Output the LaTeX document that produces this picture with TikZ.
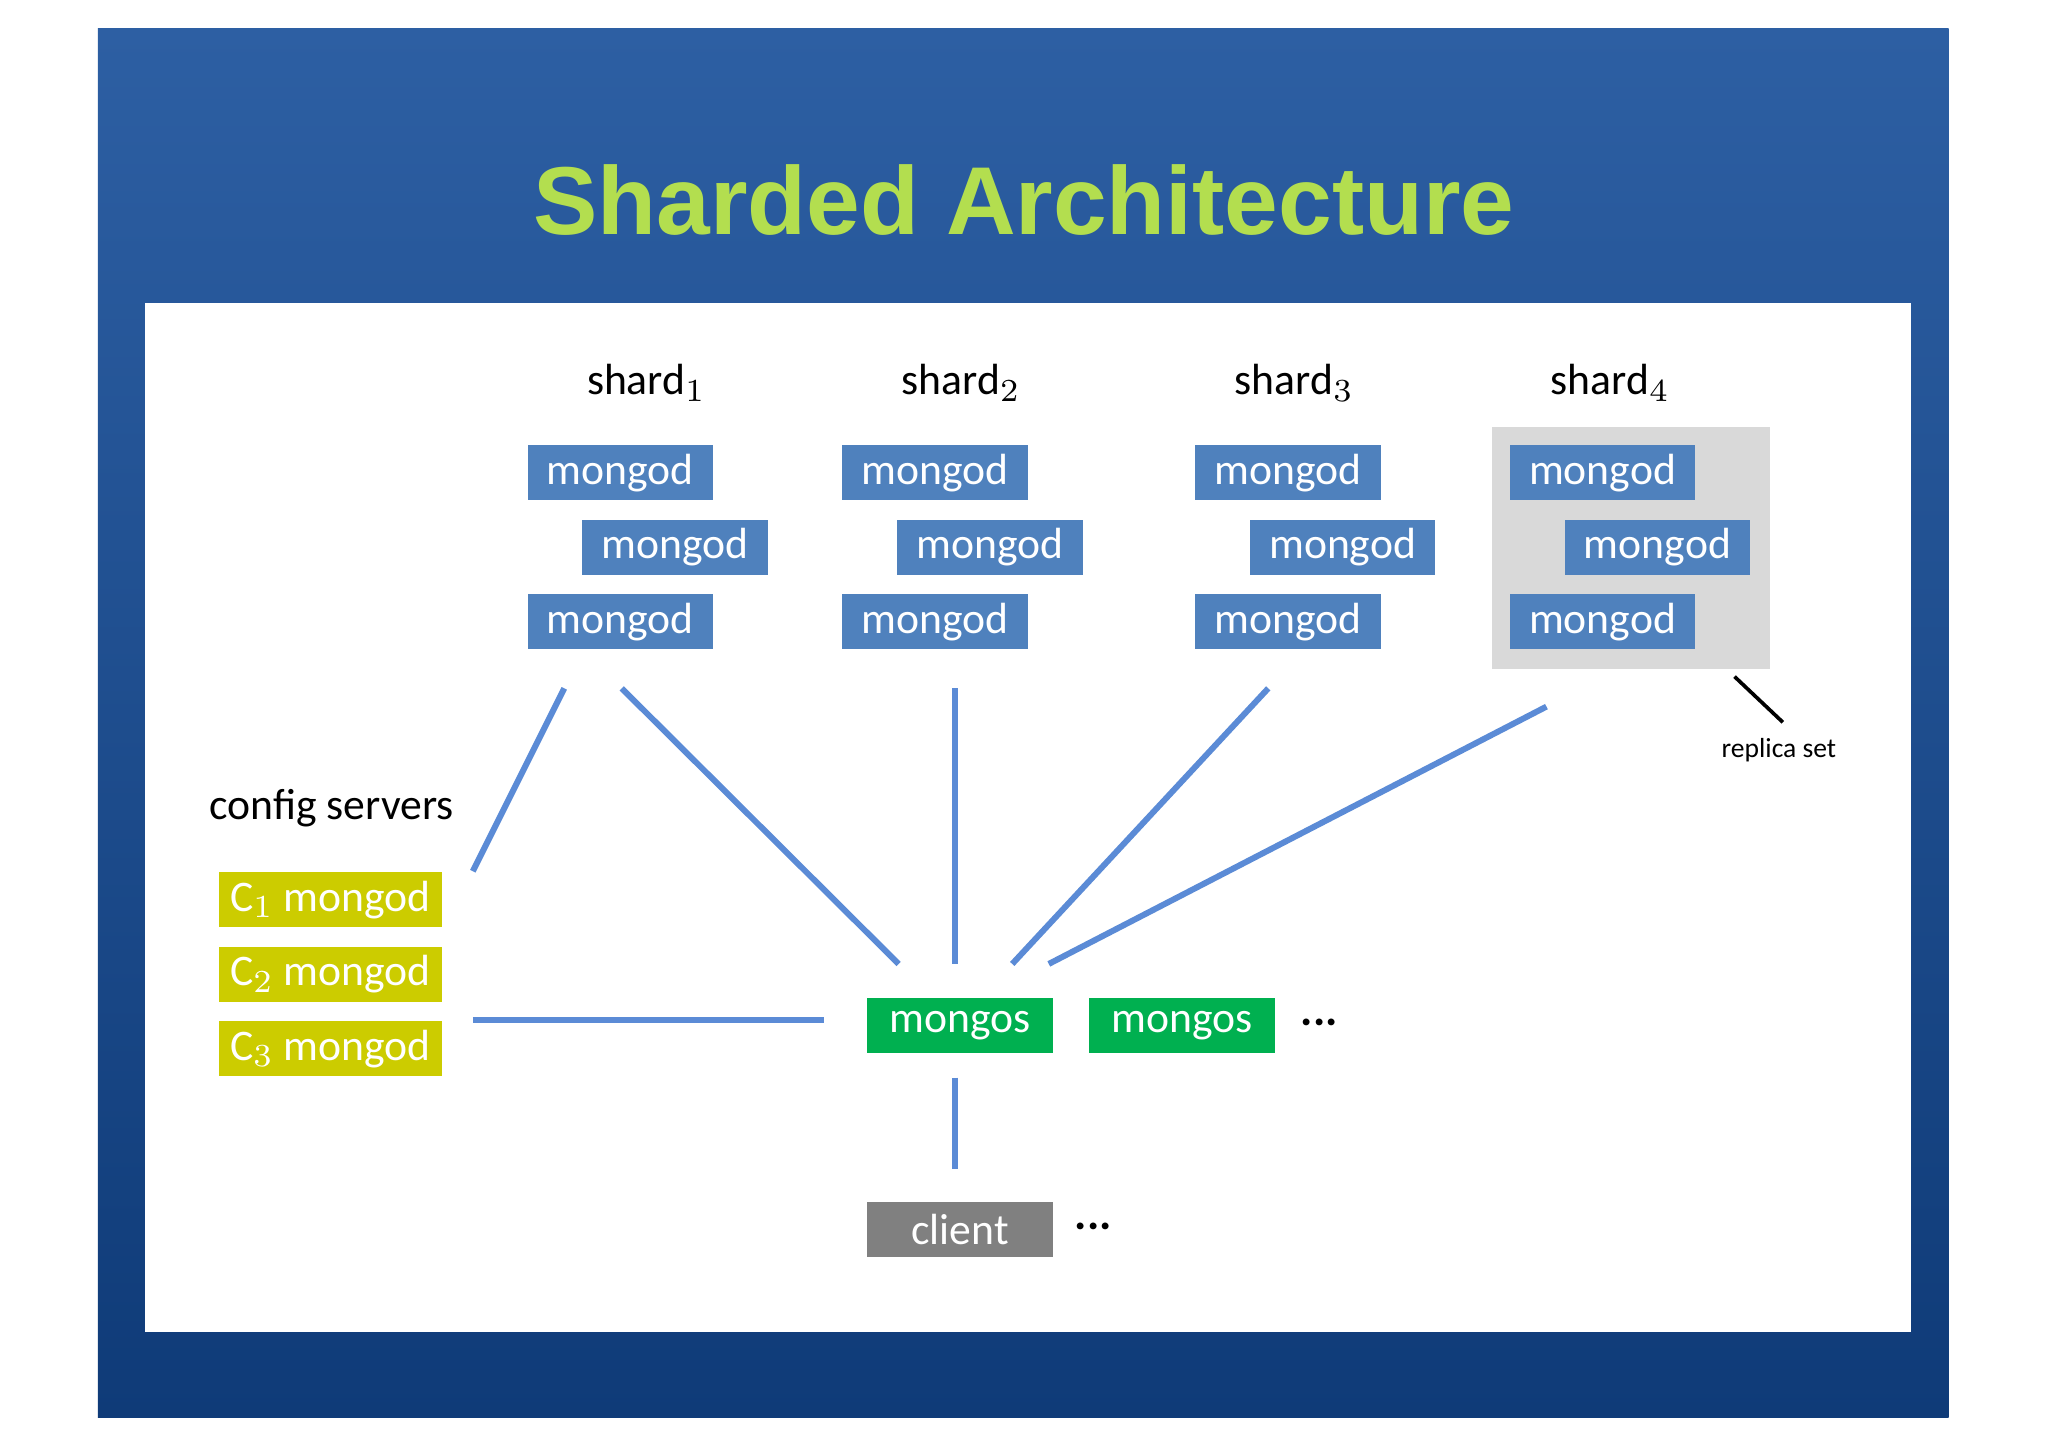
\documentclass[tikz,border=0pt]{standalone}
\usepackage{fontspec}
\setmainfont{Carlito}
\newfontfamily\titlefont{Liberation Sans}
\usetikzlibrary{positioning}
\definecolor{slideTop}{HTML}{2D5FA3}
\definecolor{slideBot}{HTML}{0F3B78}
\definecolor{shardBlue}{HTML}{4F81BD}
\definecolor{cfgYellow}{HTML}{CCCC00}
\definecolor{mongosGreen}{HTML}{00B050}
\definecolor{clientGray}{HTML}{808080}
\definecolor{linkBlue}{HTML}{5B8BD6}
\definecolor{titleGreen}{HTML}{B3DE4F}
\begin{document}
\begin{tikzpicture}[x=0.01cm,y=-0.01cm,
  box/.style={minimum width=1.42cm, minimum height=0.42cm, inner sep=0pt, text=white, font=\fontsize{9.5}{10}\selectfont},
  mongod/.style={box, fill=shardBlue},
  cfg/.style={box, fill=cfgYellow, minimum width=1.7cm},
  link/.style={draw=linkBlue, line width=1.3pt},
  lbl/.style={font=\fontsize{9.5}{10}\selectfont}]
  \useasboundingbox (0,0) rectangle (1568,1108);
  % slide background
  \shade[top color=slideTop, bottom color=slideBot] (75,22) rectangle (1492,1085);
  \fill[white] (111,232) rectangle (1463,1020);
  \node[font=\titlefont\bfseries\fontsize{21}{24}\selectfont, text=titleGreen] (title) at (784,153) {Sharded Architecture};
  % replica set area
  \fill[black!15] (1142,327) rectangle (1355,512);
  % shards
  \foreach \i/\x/\lx in {1/475/495, 2/716/736, 3/986/991, 4/1227/1233} {
    \node[lbl] (s\i) at (\lx,293) {shard$_{\i}$};
    \node[mongod] (m\i a) at (\x,362) {mongod};
    \node[mongod] (m\i b) at (\x+42,419) {mongod};
    \node[mongod] (m\i c) at (\x,476) {mongod};
  }
  \coordinate (rs1) at (1328,518);
  \coordinate (rs2) at (1365,553);
  \draw[line width=0.8pt] (rs1) -- (rs2);
  \node[font=\fontsize{6}{7}\selectfont] (rs) at (1362,574) {replica set};
  % config servers
  \node[lbl] (cfglbl) at (254,619) {config servers};
  \node[cfg] (c1) at (253,689) {C$_1$ mongod};
  \node[cfg] (c2) at (253,746) {C$_2$ mongod};
  \node[cfg] (c3) at (253,803) {C$_3$ mongod};
  % routers and client
  \node[box, fill=mongosGreen] (ms1) at (735,785) {mongos};
  \node[box, fill=mongosGreen] (ms2) at (905,785) {mongos};
  \node[font=\bfseries] (dots1) at (1010,783) {...};
  \node[box, fill=clientGray] (client) at (735,941) {client};
  \node[font=\bfseries] (dots2) at (837,939) {...};
  % connector ends
  \coordinate (p1) at (432,527); \coordinate (q1) at (362,667);
  \coordinate (p2) at (476,527); \coordinate (q2) at (688,738);
  \coordinate (p3) at (731,527); \coordinate (q3) at (731,738);
  \coordinate (p4) at (971,527); \coordinate (q4) at (775,738);
  \coordinate (p5) at (1184,541); \coordinate (q5) at (803,738);
  \coordinate (p6) at (362,781); \coordinate (q6) at (631,781);
  \coordinate (p7) at (731,825); \coordinate (q7) at (731,895);
  \foreach \k in {1,...,7} \draw[link] (p\k) -- (q\k);
\end{tikzpicture}
\end{document}
